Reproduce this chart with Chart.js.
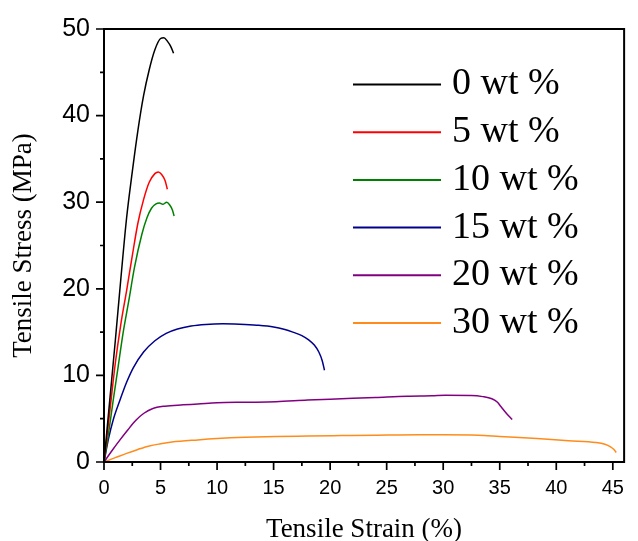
<!DOCTYPE html>
<html><head><meta charset="utf-8">
<script src="https://cdn.jsdelivr.net/npm/chart.js@4.4.1/dist/chart.umd.min.js"></script>
<style>html,body{margin:0;padding:0;background:#fff}#wrap{width:638px;height:541px}</style>
</head><body><div id="wrap"><canvas id="c" width="638" height="541"></canvas></div>
<script>
const seriesLabels = ['0 wt %', '5 wt %', '10 wt %', '15 wt %', '20 wt %', '30 wt %'];
const seriesColors = ['#000000', '#ff0000', '#008000', '#00008b', '#800080', '#ff8c1a'];

const strain0 = [0, 0.5, 1, 1.5, 2, 2.5, 3, 3.5, 4, 4.5, 5, 5.3, 5.6, 5.9, 6.15];
const stress0 = [0, 7, 14, 21.3, 28.2, 33.5, 38.3, 42.3, 45.3, 47.6, 48.9, 49, 48.6, 48, 47.2];

const strain5 = [0, 0.5, 1, 1.5, 2, 2.5, 3, 3.5, 4, 4.5, 4.8, 5.1, 5.4, 5.6];
const stress5 = [0, 5.7, 11.4, 16, 19.8, 23.8, 27.6, 30.3, 32.3, 33.3, 33.5, 33.2, 32.5, 31.5];

const strain10 = [0, 0.4, 0.8, 1.24, 1.7, 2.19, 2.7, 3.35, 3.8, 4.2, 4.6, 4.9, 5.2, 5.55, 5.8, 6.05, 6.2];
const stress10 = [0, 3.3, 7, 10.9, 15, 18.6, 22.5, 26.3, 28.2, 29.3, 29.8, 29.9, 29.75, 30.0, 29.7, 29.1, 28.4];

const strain15 = [0, 0.4, 0.8, 1.4, 2, 2.6, 3.5, 4.5, 5.5, 6.5, 7.7, 9, 10.5, 12, 13.5, 15, 16, 16.7, 17.5, 18.1, 18.6, 19, 19.3, 19.5];
const stress15 = [0, 2.7, 4.8, 7.1, 9.2, 10.9, 12.7, 14.0, 14.85, 15.35, 15.7, 15.88, 15.95, 15.9, 15.8, 15.6, 15.3, 15.0, 14.6, 14.1, 13.5, 12.7, 11.7, 10.6];

const strain20 = [0, 0.7, 1.38, 2.1, 2.8, 3.5, 4.27, 5.4, 7, 8.3, 10, 12.5, 15.2, 18, 21, 24, 26.8, 29, 30.2, 32.5, 33.5, 34.3, 34.8, 35.1, 35.6, 36.1];
const stress20 = [0, 1.3, 2.5, 3.7, 4.8, 5.6, 6.15, 6.45, 6.6, 6.7, 6.85, 6.9, 6.95, 7.15, 7.3, 7.45, 7.6, 7.65, 7.7, 7.68, 7.55, 7.3, 6.9, 6.4, 5.6, 4.9];

const strain30 = [0, 1, 2, 3, 4, 5, 6, 8.3, 10, 12.5, 15.2, 18, 21, 24, 27.9, 30, 33.1, 35, 38.3, 41.1, 43.5, 44.3, 44.8, 45.1, 45.3];
const stress30 = [0, 0.5, 1.0, 1.45, 1.85, 2.1, 2.3, 2.55, 2.7, 2.85, 2.95, 3.0, 3.05, 3.1, 3.15, 3.15, 3.1, 2.95, 2.7, 2.45, 2.25, 2.05, 1.75, 1.45, 1.1];

const xTickValues = [0, 5, 10, 15, 20, 25, 30, 35, 40, 45];
const xMinorValues = [2.5, 7.5, 12.5, 17.5, 22.5, 27.5, 32.5, 37.5, 42.5];
const yTickValues = [0, 10, 20, 30, 40, 50];
const yMinorValues = [5, 15, 25, 35, 45];

const strains = [strain0, strain5, strain10, strain15, strain20, strain30];
const stresses = [stress0, stress5, stress10, stress15, stress20, stress30];

const datasets = seriesLabels.map((lab, i) => ({
  label: lab,
  data: strains[i].map((x, j) => ({x: x, y: stresses[i][j]})),
  borderColor: seriesColors[i],
  backgroundColor: seriesColors[i],
  borderWidth: 1.5,
  pointRadius: 0,
  showLine: true,
  fill: false,
  cubicInterpolationMode: 'monotone'
}));

const frameTicks = {
  id: 'frameTicks',
  afterDraw(chart) {
    const {ctx, chartArea: a, scales: {x, y}} = chart;
    ctx.save();
    ctx.strokeStyle = '#000';
    ctx.lineWidth = 2;
    ctx.strokeRect(a.left, a.top, a.right - a.left, a.bottom - a.top);
    ctx.lineWidth = 1.7;
    ctx.beginPath();
    xTickValues.forEach(v => { const p = x.getPixelForValue(v); ctx.moveTo(p, a.bottom); ctx.lineTo(p, a.bottom + 8); });
    xMinorValues.forEach(v => { const p = x.getPixelForValue(v); ctx.moveTo(p, a.bottom); ctx.lineTo(p, a.bottom + 4); });
    yTickValues.forEach(v => { const p = y.getPixelForValue(v); ctx.moveTo(a.left, p); ctx.lineTo(a.left - 8, p); });
    yMinorValues.forEach(v => { const p = y.getPixelForValue(v); ctx.moveTo(a.left, p); ctx.lineTo(a.left - 4, p); });
    ctx.stroke();
    ctx.restore();
  }
};

const legendBox = {
  id: 'legendBox',
  afterDraw(chart) {
    const {ctx, chartArea: a} = chart;
    ctx.save();
    ctx.font = '38px "Liberation Serif", "Times New Roman", serif';
    ctx.textBaseline = 'middle';
    ctx.textAlign = 'left';
    chart.data.datasets.forEach((ds, i) => {
      const yy = a.top + 55.5 + i * 47.7;
      const x0 = a.left + 249;
      ctx.strokeStyle = ds.borderColor;
      ctx.lineWidth = 2;
      ctx.beginPath(); ctx.moveTo(x0, yy); ctx.lineTo(x0 + 88, yy); ctx.stroke();
      ctx.fillStyle = '#000';
      ctx.fillText(ds.label, x0 + 99, yy);
    });
    ctx.restore();
  }
};

new Chart(document.getElementById('c'), {
  type: 'scatter',
  data: {datasets: datasets},
  options: {
    responsive: false,
    animation: false,
    devicePixelRatio: 1,
    layout: {padding: {top: 28, right: 3, left: 0, bottom: 0}},
    plugins: {legend: {display: false}, tooltip: {enabled: false}},
    scales: {
      x: {
        type: 'linear', min: 0, max: 46,
        afterBuildTicks: s => { s.ticks = xTickValues.map(v => ({value: v})); },
        afterFit: s => { s.height = 79; },
        grid: {display: false, drawTicks: false},
        border: {display: false},
        ticks: {font: {family: '"Liberation Sans", Arial, sans-serif', size: 20}, color: '#000', padding: 14, maxRotation: 0, autoSkip: false},
        title: {display: true, text: 'Tensile Strain (%)', color: '#000', padding: 0,
                font: {family: '"Liberation Serif", "Times New Roman", serif', size: 27, lineHeight: 0.8}}
      },
      y: {
        type: 'linear', min: 0, max: 50,
        afterBuildTicks: s => { s.ticks = yTickValues.map(v => ({value: v})); },
        afterFit: s => { s.width = 104; },
        grid: {display: false, drawTicks: false},
        border: {display: false},
        ticks: {font: {family: '"Liberation Sans", Arial, sans-serif', size: 25}, color: '#000', padding: 14, autoSkip: false},
        title: {display: true, text: 'Tensile Stress (MPa)', color: '#000', padding: {top: 12.7, bottom: 0},
                font: {family: '"Liberation Serif", "Times New Roman", serif', size: 27, lineHeight: 0.8}}
      }
    }
  },
  plugins: [frameTicks, legendBox]
});
</script>
</body></html>
